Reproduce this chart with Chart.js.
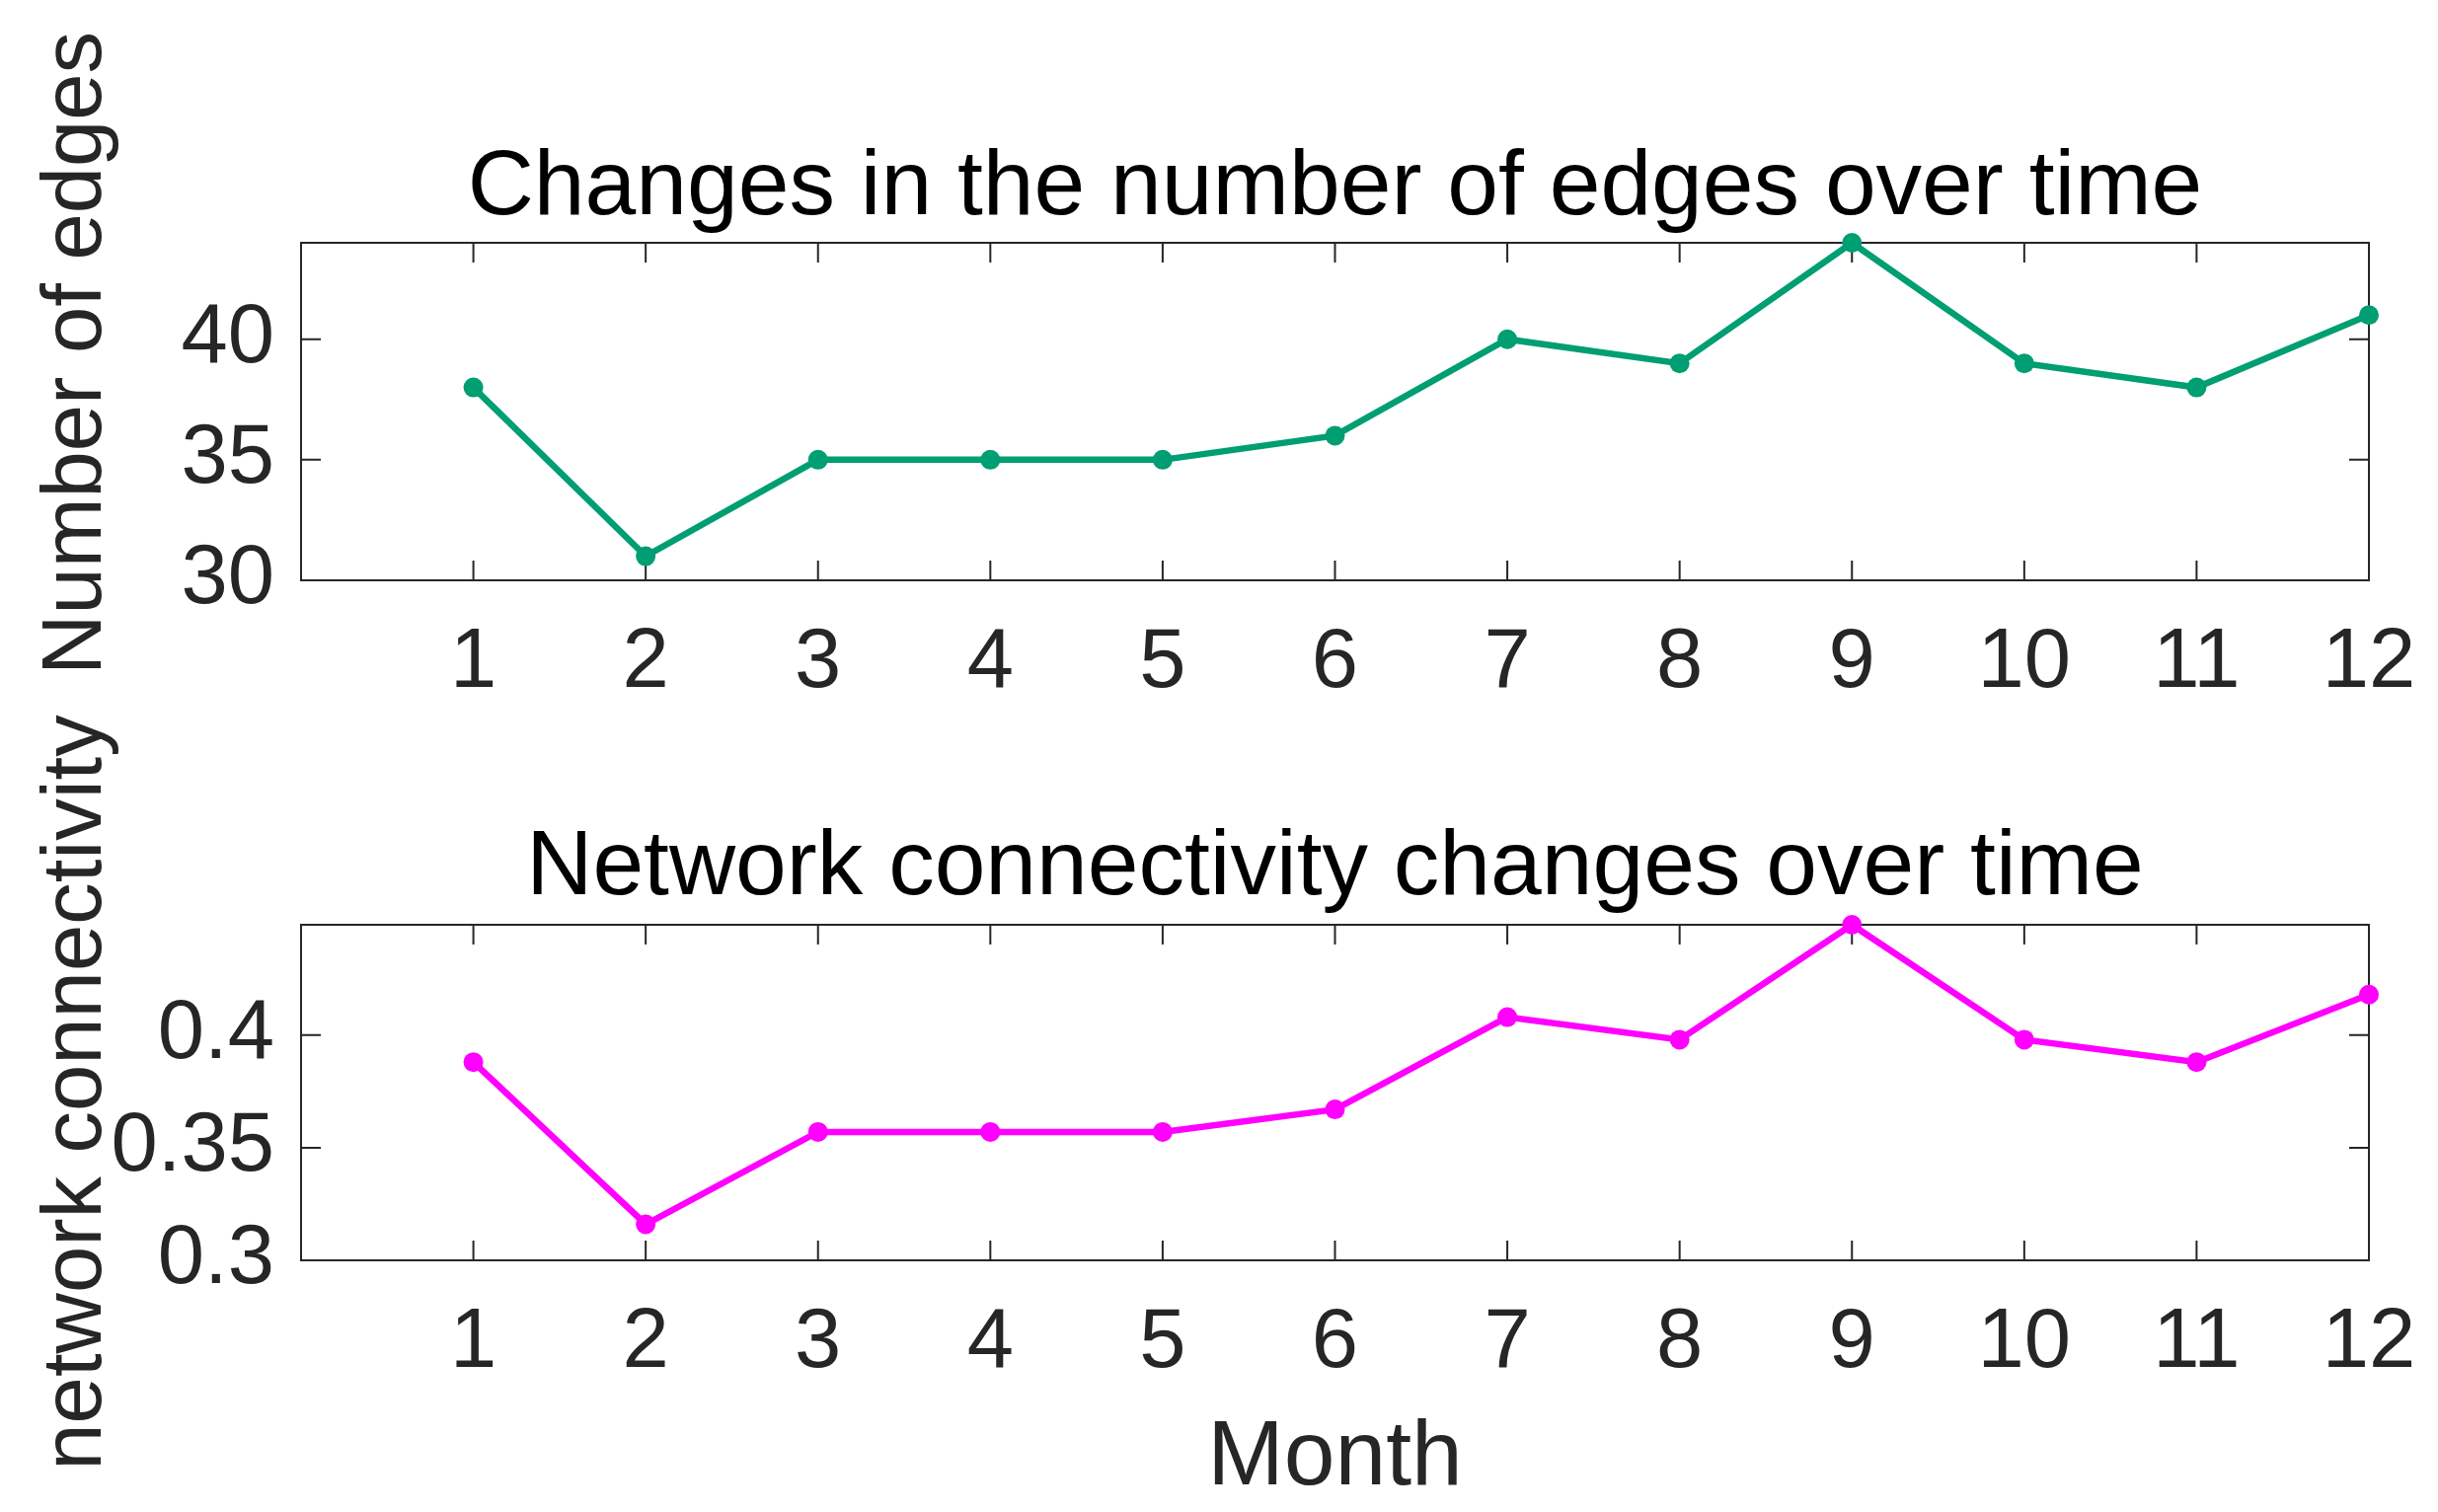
<!DOCTYPE html>
<html>
<head>
  <meta charset="UTF-8">
  <title>Edges and connectivity over time</title>
  <script src="https://cdn.jsdelivr.net/npm/chart.js"></script>
  <style>
    body {
      margin: 0;
      background: #fff;
    }
    #wrap {
      position: relative;
      width: 2470px;
      height: 1532px;
    }
    .panel {
      position: absolute;
      left: 0;
      width: 2470px;
    }
  </style>
</head>
<body>
  <div id="wrap">
    <div class="panel" style="top:0;height:766px"><canvas id="edgesChart"></canvas></div>
    <!-- lower panel overlaps the upper one so its long y label is not cut -->
    <div class="panel" style="top:600px;height:932px"><canvas id="connChart"></canvas></div>
  </div>
  <script>
    // data
    const months = [1, 2, 3, 4, 5, 6, 7, 8, 9, 10, 11, 12];
    const edgeCounts = [38, 31, 35, 35, 35, 36, 40, 39, 44, 39, 38, 41];
    const connectivity = [0.388, 0.316, 0.357, 0.357, 0.357, 0.367, 0.408, 0.398, 0.449, 0.398, 0.388, 0.418];
    const edgeTicks = [30, 35, 40];
    const connTicks = [0.3, 0.35, 0.4];

    const FONT = "'Liberation Sans', Arial, Helvetica, sans-serif";
    const AXIS = '#262626';

    // MATLAB-like box with inward tick marks on all four sides
    const boxPlugin = {
      id: 'boxPlugin',
      beforeDatasetsDraw(chart) {
        const {ctx, chartArea: a, scales} = chart;
        const len = 20;
        ctx.save();
        ctx.strokeStyle = AXIS;
        ctx.lineWidth = 2;
        ctx.strokeRect(a.left, a.top, a.right - a.left, a.bottom - a.top);
        ctx.beginPath();
        scales.x.ticks.forEach(t => {
          const px = scales.x.getPixelForValue(t.value);
          ctx.moveTo(px, a.bottom); ctx.lineTo(px, a.bottom - len);
          ctx.moveTo(px, a.top); ctx.lineTo(px, a.top + len);
        });
        scales.y.ticks.forEach(t => {
          const py = scales.y.getPixelForValue(t.value);
          ctx.moveTo(a.left, py); ctx.lineTo(a.left + len, py);
          ctx.moveTo(a.right, py); ctx.lineTo(a.right - len, py);
        });
        ctx.stroke();
        ctx.restore();
      }
    };

    function makePanel(canvasId, cfg) {
      const ctx = document.getElementById(canvasId).getContext('2d');
      return new Chart(ctx, {
        type: 'line',
        data: {
          datasets: [{
            data: months.map((m, i) => ({x: m, y: cfg.values[i]})),
            borderColor: cfg.color,
            backgroundColor: cfg.color,
            borderWidth: 6.5,
            pointRadius: 10,
            pointHoverRadius: 10,
            pointBorderWidth: 0,
            tension: 0,
            clip: false
          }]
        },
        options: {
          responsive: true,
          maintainAspectRatio: false,
          devicePixelRatio: 1,
          animation: false,
          events: [],
          layout: {padding: {left: 0, right: 70, top: 0, bottom: 0}},
          plugins: {
            legend: {display: false},
            tooltip: {enabled: false},
            title: {
              display: true,
              text: cfg.title,
              color: '#000',
              fullSize: false,
              font: {family: FONT, size: 93, weight: 'normal', lineHeight: 1},
              padding: cfg.titlePad
            }
          },
          scales: {
            x: {
              type: 'linear',
              min: 0,
              max: 12,
              grid: {display: false, drawTicks: false},
              border: {display: false},
              afterBuildTicks: s => { s.ticks = months.map(v => ({value: v})); },
              afterFit: s => {
                s.height = cfg.xHeight;
                s.paddingLeft = 0;
                s.paddingRight = 0;
              },
              ticks: {
                color: AXIS,
                padding: 34,
                maxRotation: 0,
                autoSkip: false,
                font: {family: FONT, size: 85, lineHeight: 1.2},
                callback: v => String(v)
              },
              title: {
                display: !!cfg.xTitle,
                text: cfg.xTitle || '',
                color: AXIS,
                font: {family: FONT, size: 93, lineHeight: 1},
                padding: {top: 0, bottom: 7}
              }
            },
            y: {
              type: 'linear',
              min: cfg.yMin,
              max: cfg.yMax,
              grid: {display: false, drawTicks: false},
              border: {display: false},
              afterBuildTicks: s => { s.ticks = cfg.ticks.map(v => ({value: v})); },
              afterFit: s => { s.width = 305; },
              ticks: {
                color: AXIS,
                padding: 27,
                font: {family: FONT, size: 85, lineHeight: 1.2},
                callback: v => String(+v.toFixed(2))
              },
              title: {
                display: true,
                text: cfg.yTitle,
                color: AXIS,
                font: {family: FONT, size: 85, lineHeight: 1.2},
                padding: {top: 28, bottom: 0}
              }
            }
          }
        },
        plugins: [boxPlugin]
      });
    }

    makePanel('edgesChart', {
      values: edgeCounts,
      ticks: edgeTicks,
      yMin: 30,
      yMax: 44,
      color: '#009E73',
      title: 'Changes in the number of edges over time',
      titlePad: {top: 145, bottom: 8},
      yTitle: '     Number of edges',
      xHeight: 178
    });

    makePanel('connChart', {
      values: connectivity,
      ticks: connTicks,
      yMin: 0.3,
      yMax: 0.449,
      color: '#FF00FF',
      title: 'Network connectivity changes over time',
      titlePad: {top: 234, bottom: 10},
      yTitle: 'network connectivity',
      xTitle: 'Month',
      xHeight: 255
    });
  </script>
</body>
</html>
